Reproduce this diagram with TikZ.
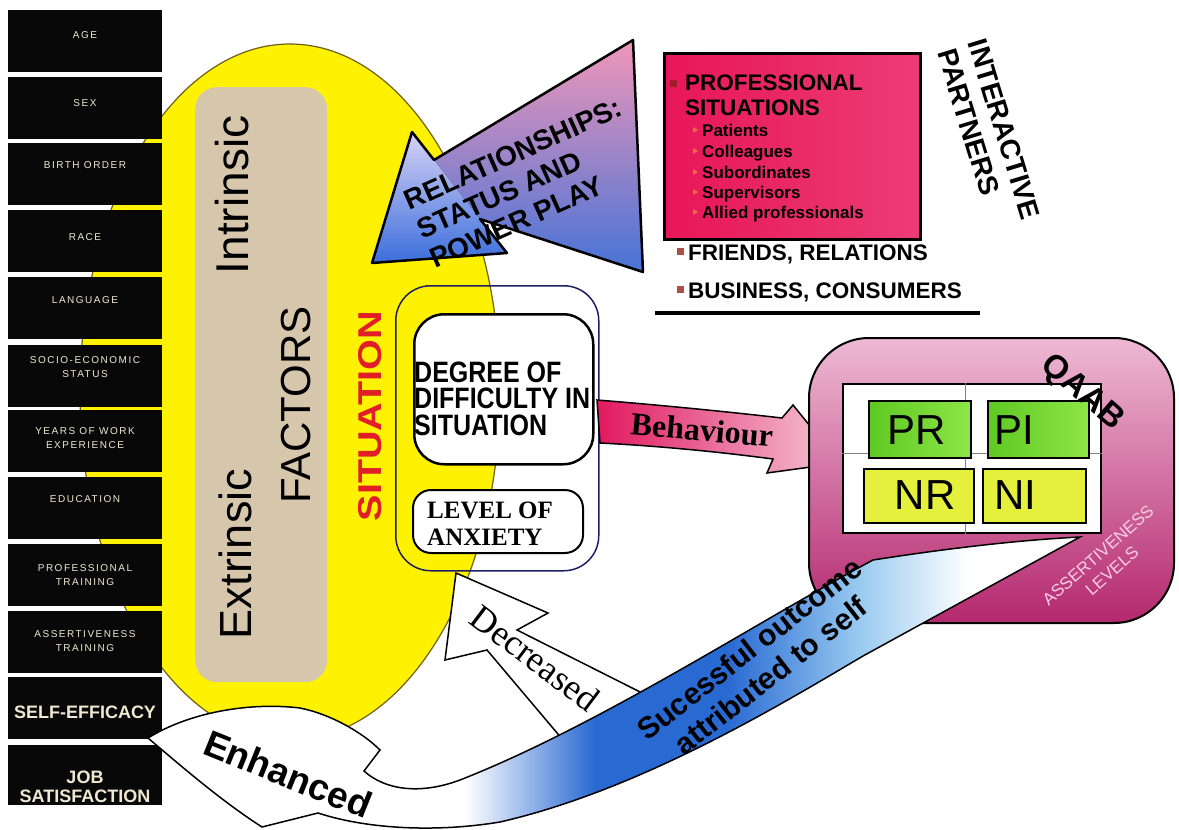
\documentclass[tikz,border=0pt]{standalone}
\usepackage{fontspec}
\setmainfont{Liberation Sans}
\newfontfamily\serifont{Liberation Serif}
\usetikzlibrary{shapes.geometric}
\definecolor{ellyellow}{RGB}{255,242,0}
\definecolor{ellline}{RGB}{110,95,20}
\definecolor{beige}{RGB}{214,198,172}
\definecolor{boxblack}{RGB}{8,8,8}
\definecolor{cream}{RGB}{240,232,210}
\definecolor{sitred}{RGB}{225,30,40}
\definecolor{relpink}{RGB}{240,150,185}
\definecolor{relmid}{RGB}{240,232,246}
\definecolor{relblue}{RGB}{70,115,215}
\definecolor{headtop}{RGB}{215,210,245}
\definecolor{headbot}{RGB}{60,110,220}
\definecolor{prpink}{RGB}{232,22,88}
\definecolor{prlight}{RGB}{250,205,225}
\definecolor{prright}{RGB}{236,60,120}
\definecolor{markred}{RGB}{160,30,40}
\definecolor{markbrown}{RGB}{170,80,70}
\definecolor{markorange}{RGB}{230,110,60}
\definecolor{navy}{RGB}{30,30,100}
\definecolor{behpink}{RGB}{225,25,95}
\definecolor{behlight}{RGB}{245,200,215}
\definecolor{qtop}{RGB}{238,185,212}
\definecolor{qbot}{RGB}{180,40,110}
\definecolor{gleft}{RGB}{95,200,35}
\definecolor{gright}{RGB}{140,230,70}
\definecolor{ycell}{RGB}{228,240,60}
\definecolor{bandblue}{RGB}{40,105,210}
\definecolor{bandlight}{RGB}{150,200,240}
\definecolor{asstext}{RGB}{250,205,228}
\pgfdeclarehorizontalshading{bandshade}{100bp}{color(0bp)=(white); color(42bp)=(white); color(49bp)=(bandblue); color(56bp)=(bandblue); color(63bp)=(bandlight); color(69bp)=(white); color(100bp)=(white)}
\tikzset{
  lbox/.style={fill=boxblack, minimum width=154pt, minimum height=62pt, inner sep=0pt, outer sep=0pt, anchor=north west},
  smalltxt/.style={text=cream, align=center, inner sep=0pt, font=\fontsize{10}{14}\selectfont\addfontfeatures{LetterSpace=15}},
  bigtxt/.style={text=cream, align=center, inner sep=0pt, font=\bfseries\fontsize{18}{19}\selectfont},
  listhead/.style={anchor=base west, inner sep=0pt, font=\bfseries\fontsize{22.5}{24}\selectfont},
  listsub/.style={anchor=base west, inner sep=0pt, font=\bfseries\fontsize{17}{20}\selectfont},
  degtxt/.style={anchor=base west, inner sep=0pt, font=\bfseries\fontsize{25}{26}\selectfont},
  cellbox/.style={draw=black, line width=2pt, anchor=north west, inner sep=0pt},
  celltxt/.style={inner sep=0pt, font=\fontsize{42}{42}\selectfont},
}
\begin{document}
\begin{tikzpicture}[x=1pt,y=1pt]
\useasboundingbox (0,-830) rectangle (1179,0);
\fill[white] (0,-830) rectangle (1179,0);

% yellow ellipse
\node[ellipse, minimum width=420pt, minimum height=696pt, inner sep=0pt, fill=ellyellow, draw=ellline, line width=1.2pt] (ell) at (290,-392) {};

% left column boxes
\node[lbox] (b1) at (8,-10) {};
\node[lbox] (b2) at (8,-77) {};
\node[lbox] (b3) at (8,-143) {};
\node[lbox] (b4) at (8,-210) {};
\node[lbox] (b5) at (8,-277) {};
\node[lbox] (b6) at (8,-345) {};
\node[lbox] (b7) at (8,-410) {};
\node[lbox] (b8) at (8,-477) {};
\node[lbox] (b9) at (8,-544) {};
\node[lbox] (b10) at (8,-611) {};
\node[lbox] (b11) at (8,-677) {};
\node[lbox, minimum height=60pt] (b12) at (8,-745) {};
\node[smalltxt] (t1) at ([yshift=6pt]b1.center) {AGE};
\node[smalltxt] (t2) at ([yshift=5pt]b2.center) {SEX};
\node[smalltxt] (t3) at ([yshift=9pt]b3.center) {BIRTH ORDER};
\node[smalltxt] (t4) at ([yshift=4pt]b4.center) {RACE};
\node[smalltxt] (t5) at ([yshift=8pt]b5.center) {LANGUAGE};
\node[smalltxt] (t6) at ([yshift=9pt]b6.center) {SOCIO-ECONOMIC\\STATUS};
\node[smalltxt] (t7) at ([yshift=3pt]b7.center) {YEARS OF WORK\\EXPERIENCE};
\node[smalltxt] (t8) at ([yshift=9pt]b8.center) {EDUCATION};
\node[smalltxt] (t9) at ([yshift=0pt]b9.center) {PROFESSIONAL\\TRAINING};
\node[smalltxt] (t10) at ([yshift=1pt]b10.center) {ASSERTIVENESS\\TRAINING};
\node[bigtxt] (t11) at ([yshift=-4pt]b11.center) {SELF-EFFICACY};
\node[bigtxt] (t12) at ([yshift=-12pt]b12.center) {JOB\\SATISFACTION};

% factors
\node[fill=beige, rounded corners=22pt, minimum width=132pt, minimum height=595pt, inner sep=0pt, anchor=north west] (beig) at (195,-87) {};
\node[rotate=90, inner sep=0pt, font=\fontsize{46}{46}\selectfont] (intr) at (232,-195) {Intrinsic};
\node[rotate=90, inner sep=0pt, font=\fontsize{45}{45}\selectfont] (extr) at (235,-554) {Extrinsic};
\node[rotate=90, inner sep=0pt, font=\fontsize{42}{42}\selectfont] (fact) at (296,-405) {FACTORS};
\node[rotate=90, inner sep=0pt, text=sitred, font=\bfseries\fontsize{33}{33}\selectfont] (situ) at (370,-416) {\scalebox{1.2}[1]{SITUATION}};

% relationships arrow
\fill[top color=relpink, middle color=relmid, bottom color=relblue] (633,-40) -- (643,-272) -- (478,-218) -- (425,-165) -- cycle;
\fill[top color=headtop, bottom color=headbot] (412,-132) -- (372,-263) -- (507,-253) -- cycle;
\draw[line width=2.5pt, line join=round] (412,-132) -- (434,-160) -- (633,-40) -- (643,-272) -- (480,-219) -- (507,-253) -- (372,-263) -- cycle;
\node[rotate=24, align=left, inner sep=0pt, font=\bfseries\fontsize{28}{32}\selectfont] (rel) at (526,-183) {RELATIONSHIPS:\\STATUS AND\\POWER PLAY};

% professional situations box
\node[draw=black, line width=2.5pt, left color=prpink, middle color=prlight, right color=prright, minimum width=256pt, minimum height=186pt, inner sep=0pt, anchor=north west] (pro) at (663,-52) {};
\fill[markred] (670,-80) rectangle (677,-87);
\node[listhead] (ph1) at (685,-90) {PROFESSIONAL};
\node[listhead] (ph2) at (685,-115) {SITUATIONS};
\foreach \yy/\tt [count=\i] in {136/Patients,157/Colleagues,178/Subordinates,198/Supervisors,218/Allied professionals}{
  \fill[markorange] (693,-\yy+9) -- (693,-\yy+3) -- (698,-\yy+6) -- cycle;
  \node[listsub] (ps\i) at (702,-\yy) {\tt};
}
\fill[markbrown] (677,-248) rectangle (684,-255);
\node[listhead] (fr) at (688,-260) {FRIENDS, RELATIONS};
\fill[markbrown] (677,-286) rectangle (684,-293);
\node[listhead] (bu) at (688,-298) {BUSINESS, CONSUMERS};
\coordinate (ul1) at (655,-313);
\coordinate (ul2) at (980,-313);
\draw[line width=3.5pt] (ul1) -- (ul2);
\node[rotate=-73, align=left, inner sep=0pt, font=\bfseries\fontsize{28}{32}\selectfont] (ip) at (989,-134) {INTERACTIVE\\PARTNERS};

% situation box
\node[draw=navy, line width=1.5pt, rounded corners=35pt, minimum width=203pt, minimum height=285pt, inner sep=0pt, anchor=north west] (sit) at (395,-285) {};
\node[draw=black, fill=white, line width=2.5pt, rounded corners=30pt, minimum width=179pt, minimum height=150pt, inner sep=0pt, anchor=north west] (deg) at (413,-313) {};
\node[degtxt] (d1) at (414,-382) {\scalebox{1}[1.18]{DEGREE OF}};
\node[degtxt] (d2) at (414,-408) {\scalebox{1}[1.18]{DIFFICULTY IN}};
\node[degtxt] (d3) at (414,-435) {\scalebox{1}[1.18]{SITUATION}};
\node[draw=black, fill=white, line width=2pt, rounded corners=18pt, minimum width=170pt, minimum height=63pt, inner sep=0pt, anchor=north west] (lev) at (412,-489) {};
\node[degtxt, font=\serifont\bfseries\fontsize{25}{26}\selectfont] (l1) at (427,-518) {LEVEL OF};
\node[degtxt, font=\serifont\bfseries\fontsize{25}{26}\selectfont] (l2) at (427,-545) {ANXIETY};

% behaviour arrow
\draw[line width=1.5pt, line join=miter, left color=behpink, right color=behlight] (597,-400) .. controls (660,-405) and (730,-412) .. (782,-418) -- (793,-405) -- (840,-463) -- (767,-473) -- (773,-459) .. controls (720,-452) and (660,-446) .. (600,-443) -- cycle;
\node[rotate=-5, inner sep=0pt, font=\serifont\bfseries\fontsize{32}{32}\selectfont] (beh) at (702,-430) {Behaviour};

% QAAB
\node[draw=black, line width=2pt, rounded corners=60pt, top color=qtop, bottom color=qbot, minimum width=365pt, minimum height=285pt, inner sep=0pt, anchor=north west] (qaab) at (808,-337) {};
\node[draw=black, fill=white, line width=2pt, minimum width=258pt, minimum height=149pt, inner sep=0pt, anchor=north west] (grid) at (842,-383) {};
\draw[gray, line width=1pt] (grid.north) ++(-7,0) coordinate (gv1) -- (gv1 |- grid.south);
\draw[gray, line width=1pt] (grid.west) ++(0,5) coordinate (gh1) -- (gh1 -| grid.east);
\node[cellbox, left color=gleft, right color=gright, minimum width=102pt, minimum height=57pt] (cpr) at (868,-400) {};
\node[cellbox, left color=gleft, right color=gright, minimum width=101pt, minimum height=57pt] (cpi) at (987,-400) {};
\node[cellbox, fill=ycell, minimum width=110pt, minimum height=54pt] (cnr) at (863,-468) {};
\node[cellbox, fill=ycell, minimum width=103pt, minimum height=54pt] (cni) at (982,-468) {};
\node[celltxt] (xpr) at (917,-430) {PR};
\node[celltxt] (xpi) at (1014,-430) {PI};
\node[celltxt] (xnr) at (925,-495) {NR};
\node[celltxt] (xni) at (1015,-495) {NI};
\node[rotate=-41, inner sep=0pt, font=\bfseries\fontsize{33}{33}\selectfont] (qlab) at (1082,-393) {QAAB};
\node[rotate=41.5, align=center, inner sep=0pt, text=asstext, font=\fontsize{17}{21}\selectfont] (alev) at (1105,-563) {ASSERTIVENESS\\LEVELS};

% decreased arrow
\draw[fill=white, line width=1.5pt, line join=miter] (456,-573) -- (548,-613) -- (517,-630) -- (650,-697) -- (563,-740) -- (487,-650) -- (445,-660) -- cycle;
\node[rotate=-37, inner sep=0pt, font=\serifont\fontsize{36}{36}\selectfont] (decr) at (535,-658) {Decreased};

% successful outcome band with enhanced head
\draw[line width=1.5pt, line join=miter, shade, shading=bandshade] (148,-738) .. controls (190,-712) and (250,-702) .. (300,-708) .. controls (330,-714) and (362,-732) .. (380,-750) -- (364,-771) .. controls (385,-790) and (420,-795) .. (460,-780) .. controls (600,-725) and (760,-620) .. (873,-560) .. controls (950,-548) and (1020,-540) .. (1080,-537) -- (863,-656) .. controls (780,-705) and (640,-790) .. (500,-822) .. controls (440,-832) and (370,-830) .. (318,-813) -- (262,-827) .. controls (220,-800) and (180,-765) .. cycle;
\node[rotate=-22, inner sep=0pt, font=\bfseries\fontsize{37}{37}\selectfont] (enh) at (288,-774) {Enhanced};
\node[rotate=38, align=center, inner sep=0pt, font=\bfseries\fontsize{30}{34}\selectfont] (succ) at (760,-662) {Sucessful outcome\\attributed to self};
\end{tikzpicture}
\end{document}
